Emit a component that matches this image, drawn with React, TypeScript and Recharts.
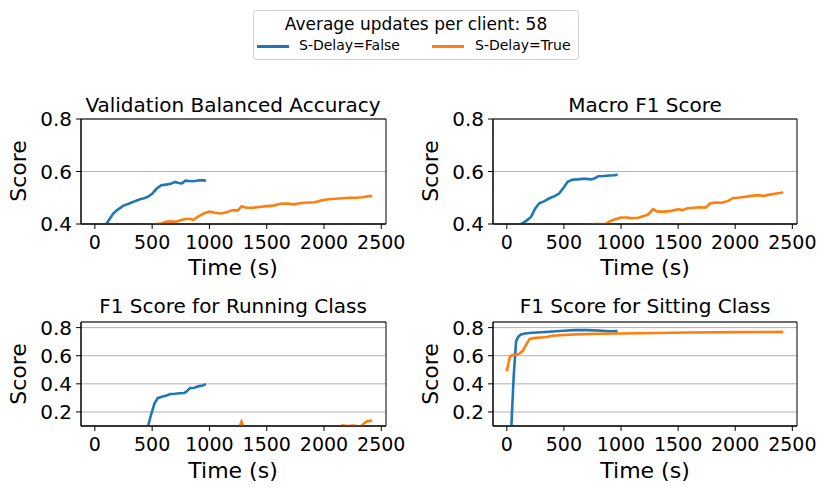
import React from "react";
import { LineChart, Line, XAxis, YAxis, CartesianGrid, ReferenceArea } from "recharts";

const BLUE = "#1f77b4";
const ORANGE = "#ff7f0e";
const FONT = "'DejaVu Sans', sans-serif";

const timeTicks = [0, 500, 1000, 1500, 2000, 2500];
const timeDomain: [number, number] = [-121, 2541];

// Validation balanced accuracy
const balAccFalseT = [60, 100, 130, 160, 200, 250, 300, 350, 400, 430, 460, 500, 540, 580, 620, 660, 700, 730, 760, 790, 820, 860, 900, 940, 970];
const balAccFalseV = [0.37, 0.4, 0.42, 0.44, 0.455, 0.47, 0.478, 0.487, 0.495, 0.498, 0.503, 0.515, 0.535, 0.548, 0.55, 0.553, 0.56, 0.556, 0.555, 0.565, 0.564, 0.563, 0.566, 0.567, 0.565];
const balAccTrueT = [450, 530, 580, 620, 660, 700, 740, 780, 820, 860, 900, 950, 1000, 1050, 1100, 1150, 1200, 1250, 1280, 1320, 1380, 1450, 1500, 1560, 1620, 1680, 1740, 1800, 1860, 1920, 1980, 2040, 2100, 2160, 2220, 2280, 2340, 2400, 2420];
const balAccTrueV = [0.39, 0.4, 0.402, 0.408, 0.41, 0.408, 0.413, 0.418, 0.42, 0.416, 0.428, 0.44, 0.447, 0.443, 0.44, 0.445, 0.452, 0.452, 0.468, 0.462, 0.462, 0.466, 0.468, 0.47, 0.477, 0.478, 0.475, 0.48, 0.482, 0.483, 0.49, 0.494, 0.496, 0.498, 0.5, 0.5, 0.502, 0.507, 0.506];

// Macro F1
const macroFalseT = [80, 125, 170, 213, 250, 285, 330, 373, 420, 460, 500, 533, 577, 620, 660, 700, 740, 770, 800, 850, 900, 940, 970];
const macroFalseV = [0.38, 0.4, 0.412, 0.428, 0.46, 0.479, 0.487, 0.498, 0.506, 0.517, 0.54, 0.561, 0.569, 0.57, 0.572, 0.572, 0.57, 0.574, 0.582, 0.583, 0.585, 0.586, 0.588];
const macroTrueT = [700, 770, 820, 860, 900, 950, 1000, 1050, 1100, 1150, 1200, 1240, 1280, 1320, 1380, 1440, 1500, 1540, 1580, 1640, 1700, 1740, 1780, 1820, 1880, 1940, 1980, 2020, 2080, 2140, 2200, 2250, 2300, 2360, 2420];
const macroTrueV = [0.39, 0.4, 0.4, 0.398, 0.41, 0.418, 0.425, 0.425, 0.422, 0.424, 0.43, 0.437, 0.457, 0.447, 0.447, 0.45, 0.456, 0.453, 0.46, 0.462, 0.464, 0.462, 0.478, 0.482, 0.481, 0.488, 0.499, 0.5, 0.503, 0.507, 0.51, 0.507, 0.512, 0.516, 0.52];

// F1 running class
const runFalseT = [440, 465, 490, 520, 549, 590, 620, 660, 700, 740, 780, 800, 830, 870, 900, 940, 970];
const runFalseV = [0.05, 0.1, 0.18, 0.26, 0.298, 0.31, 0.315, 0.328, 0.33, 0.333, 0.335, 0.345, 0.37, 0.372, 0.382, 0.388, 0.398];
const runTrueT = [1200, 1260, 1280, 1300, 1330, 2100, 2160, 2200, 2260, 2320, 2350, 2380, 2420];
const runTrueV = [0.05, 0.09, 0.13, 0.09, 0.05, 0.05, 0.105, 0.1, 0.104, 0.095, 0.12, 0.135, 0.138];

// F1 sitting class
const sitFalseT = [30, 40, 60, 81, 100, 125, 160, 199, 300, 400, 500, 600, 700, 800, 900, 970];
const sitFalseV = [0.0, 0.1, 0.45, 0.702, 0.735, 0.752, 0.758, 0.762, 0.767, 0.772, 0.778, 0.782, 0.782, 0.779, 0.774, 0.775];
const sitTrueT = [0, 15, 29, 50, 80, 110, 140, 170, 200, 250, 300, 350, 400, 500, 600, 800, 1000, 1300, 1600, 2000, 2420];
const sitTrueV = [0.49, 0.55, 0.595, 0.605, 0.607, 0.615, 0.635, 0.68, 0.72, 0.727, 0.73, 0.733, 0.742, 0.748, 0.752, 0.756, 0.758, 0.762, 0.765, 0.768, 0.77];

const zip = (ts: number[], vs: number[]) => ts.map((t, i) => ({ t, v: vs[i] }));

function Txt({ x, y, size, children, rotate }: { x: number; y: number; size: number; children: React.ReactNode; rotate?: boolean }) {
  return (
    <div
      style={{
        position: "absolute",
        left: x,
        top: y,
        transform: `translate(-50%, -50%)${rotate ? " rotate(-90deg)" : ""}`,
        fontSize: size,
        lineHeight: 1,
        whiteSpace: "nowrap",
        color: "#000",
      }}
    >
      {children}
    </div>
  );
}

interface PanelProps {
  left: number;
  top: number;
  height: number;
  plot: [number, number, number, number]; // left, top, right, bottom (page px)
  yDomain: [number, number];
  yTicks: number[];
  blue: { t: number; v: number }[];
  orange: { t: number; v: number }[];
}

function Panel({ left, top, height, plot, yDomain, yTicks, blue, orange }: PanelProps) {
  const W = 415;
  const yW = 60;
  const xH = 30;
  const margin = {
    left: plot[0] - left - yW,
    top: plot[1] - top,
    right: left + W - plot[2],
    bottom: top + height - plot[3] - xH,
  };
  return (
    <div style={{ position: "absolute", left, top }}>
      <LineChart width={W} height={height} margin={margin}>
        <CartesianGrid vertical={false} stroke="#b0b0b0" strokeWidth={1} />
        <XAxis
          type="number"
          dataKey="t"
          domain={timeDomain}
          ticks={timeTicks}
          allowDataOverflow
          height={xH}
          stroke="#000"
          tickSize={5}
          tickMargin={7}
          tick={{ fontSize: 19, fill: "#000", fontFamily: FONT }}
        />
        <YAxis
          type="number"
          domain={yDomain}
          ticks={yTicks}
          allowDataOverflow
          width={yW}
          stroke="#000"
          tickSize={5}
          tickMargin={4}
          tickFormatter={(v: number) => v.toFixed(1)}
          tick={{ fontSize: 20, fill: "#000", fontFamily: FONT }}
        />
        <Line data={blue} dataKey="v" type="linear" stroke={BLUE} strokeWidth={2.6} dot={false} isAnimationActive={false} />
        <Line data={orange} dataKey="v" type="linear" stroke={ORANGE} strokeWidth={2.6} dot={false} isAnimationActive={false} />
        <ReferenceArea
          x1={timeDomain[0]}
          x2={timeDomain[1]}
          y1={yDomain[0]}
          y2={yDomain[1]}
          fill="none"
          stroke="#000"
          strokeWidth={1}
          ifOverflow="visible"
        />
      </LineChart>
    </div>
  );
}

export default function App() {
  return (
    <div style={{ position: "absolute", left: 0, top: 0, width: 830, height: 495, background: "#fff", fontFamily: FONT }}>
      {/* legend */}
      <div
        style={{
          position: "absolute",
          left: 253,
          top: 10,
          width: 324,
          height: 48,
          border: "1px solid #d0d0d0",
          borderRadius: 3,
        }}
      />
      <Txt x={416} y={24} size={17}>Average updates per client: 58</Txt>
      <div style={{ position: "absolute", left: 257, top: 45, width: 32, height: 3, background: BLUE }} />
      <div style={{ position: "absolute", left: 299, top: 38, fontSize: 14, lineHeight: 1, whiteSpace: "nowrap" }}>S-Delay=False</div>
      <div style={{ position: "absolute", left: 432, top: 45, width: 32, height: 3, background: ORANGE }} />
      <div style={{ position: "absolute", left: 475, top: 38, fontSize: 14, lineHeight: 1, whiteSpace: "nowrap" }}>S-Delay=True</div>

      <Panel left={0} top={100} height={190} plot={[81, 119, 386, 224]} yDomain={[0.4, 0.8]} yTicks={[0.4, 0.6, 0.8]} blue={zip(balAccFalseT, balAccFalseV)} orange={zip(balAccTrueT, balAccTrueV)} />
      <Panel left={415} top={100} height={190} plot={[493, 119, 797, 224]} yDomain={[0.4, 0.8]} yTicks={[0.4, 0.6, 0.8]} blue={zip(macroFalseT, macroFalseV)} orange={zip(macroTrueT, macroTrueV)} />
      <Panel left={0} top={300} height={190} plot={[81, 322, 386, 426]} yDomain={[0.1, 0.84]} yTicks={[0.2, 0.4, 0.6, 0.8]} blue={zip(runFalseT, runFalseV)} orange={zip(runTrueT, runTrueV)} />
      <Panel left={415} top={300} height={190} plot={[493, 322, 797, 426]} yDomain={[0.1, 0.84]} yTicks={[0.2, 0.4, 0.6, 0.8]} blue={zip(sitFalseT, sitFalseV)} orange={zip(sitTrueT, sitTrueV)} />

      <Txt x={233} y={105} size={20}>Validation Balanced Accuracy</Txt>
      <Txt x={645} y={105} size={20}>Macro F1 Score</Txt>
      <Txt x={233} y={306} size={20}>F1 Score for Running Class</Txt>
      <Txt x={645} y={306} size={20}>F1 Score for Sitting Class</Txt>

      <Txt x={19} y={171} size={22} rotate>Score</Txt>
      <Txt x={431} y={171} size={22} rotate>Score</Txt>
      <Txt x={19} y={374} size={22} rotate>Score</Txt>
      <Txt x={431} y={374} size={22} rotate>Score</Txt>

      <Txt x={233} y={268} size={22}>Time (s)</Txt>
      <Txt x={645} y={268} size={22}>Time (s)</Txt>
      <Txt x={233} y={471} size={22}>Time (s)</Txt>
      <Txt x={645} y={471} size={22}>Time (s)</Txt>
    </div>
  );
}
